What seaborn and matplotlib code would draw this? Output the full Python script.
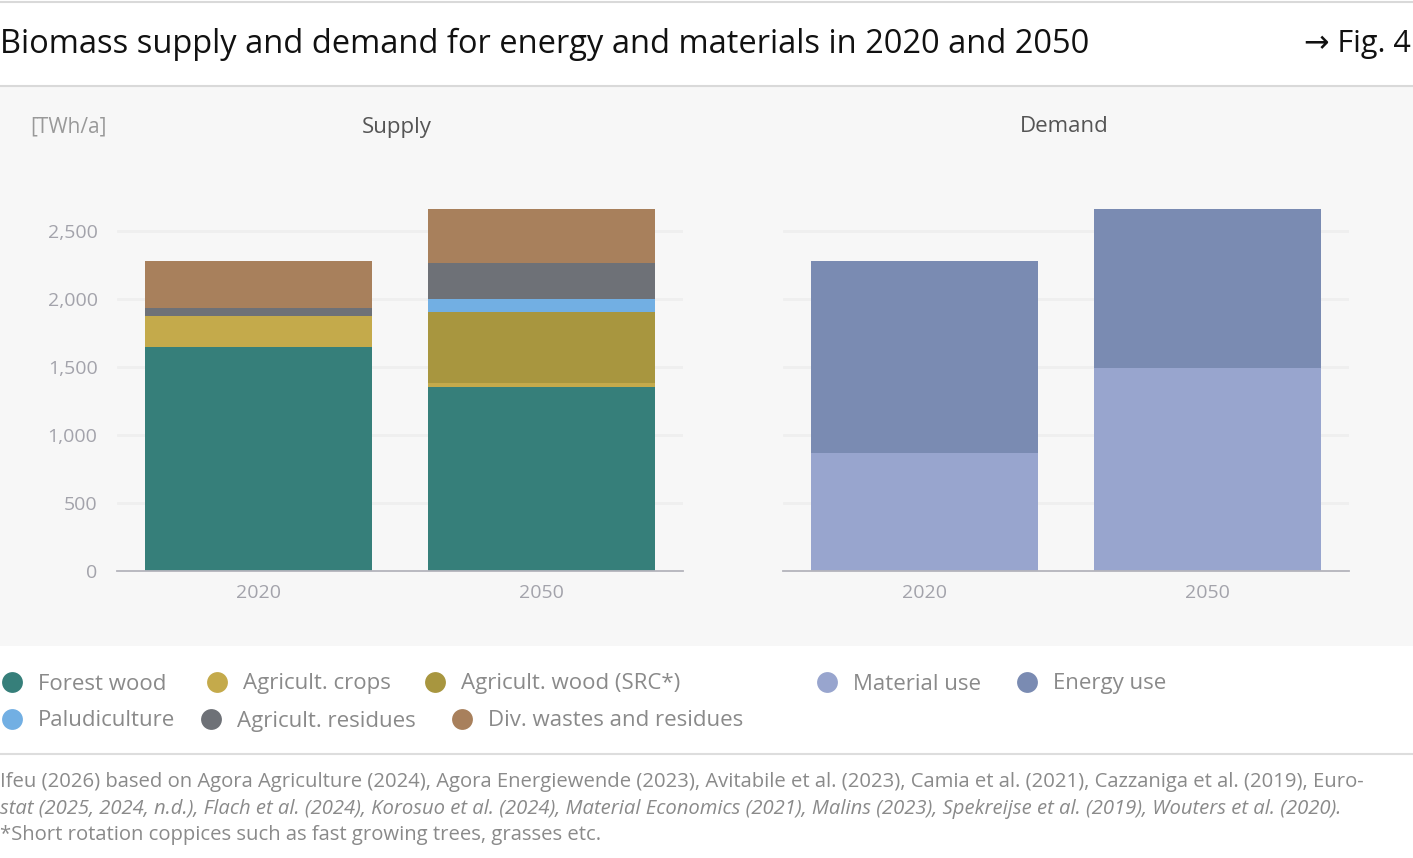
import numpy as np
import pandas as pd
import matplotlib
matplotlib.use("Agg")
import matplotlib.pyplot as plt
from matplotlib.lines import Line2D
from matplotlib.patches import Rectangle
import seaborn as sns

# ---------------- data ----------------
years = ["2020", "2050"]
supply_categories = ["Forest wood", "Agricult. crops", "Agricult. wood (SRC*)",
                     "Paludiculture", "Agricult. residues", "Div. wastes and residues"]
forest_wood = [1650, 1355]
agri_crops = [227, 27]
agri_wood_src = [0, 520]
paludiculture = [0, 98]
agri_residues = [57, 267]
div_wastes = [343, 393]

demand_categories = ["Material use", "Energy use"]
material_use = [868, 1490]
energy_use = [1409, 1170]

y_ticks = [0, 500, 1000, 1500, 2000, 2500]

supply_colors = ["#367f7a", "#c4aa4b", "#a8963f", "#72afe3", "#6e7177", "#a8805c"]
demand_colors = ["#98a5ce", "#7a8bb2"]

# ---------------- style ----------------
sns.set_theme(style="white")
plt.rcParams["font.family"] = ["Open Sans", "DejaVu Sans"]

W, H = 1413, 858
fig = plt.figure(figsize=(W / 100, H / 100), dpi=100)
fig.patch.set_facecolor("white")

def fx(x):
    return x / W

def fy(y):
    return 1 - y / H

# grey panel
panel = Rectangle((0, fy(646)), 1, fy(86) - fy(646), transform=fig.transFigure,
                  facecolor="#f7f7f7", edgecolor="none", zorder=-10)
fig.add_artist(panel)
# separator lines
for yy, c in [(2, "#d9d9d9"), (85.5, "#d9d9d9"), (754, "#dddddd")]:
    fig.add_artist(Line2D([0, 1], [fy(yy), fy(yy)], transform=fig.transFigure,
                          color=c, lw=1.5, zorder=-5))

# title
fig.text(fx(0), fy(44), "Biomass supply and demand for energy and materials in 2020 and 2050",
         fontsize=23.5, color="#111111", ha="left", va="center")
fig.text(fx(1411), fy(44), "\u2192 Fig. 4", fontsize=22, color="#111111", ha="right", va="center")

ymax = 2750
ax_bottom = fy(571)
ax_h = (2750 * 340 / 2500) / H
axL = fig.add_axes([fx(117), ax_bottom, fx(566), ax_h])
axR = fig.add_axes([fx(783), ax_bottom, fx(566), ax_h])

def stacked(ax, layers, colors):
    cum = np.cumsum(np.array(layers, dtype=float), axis=0)
    for i in range(len(layers) - 1, -1, -1):
        df = pd.DataFrame({"year": years, "value": cum[i]})
        sns.barplot(data=df, x="year", y="value", ax=ax, color=colors[i],
                    width=0.8, linewidth=0, saturation=1, zorder=3)

stacked(axL, [forest_wood, agri_crops, agri_wood_src, paludiculture, agri_residues, div_wastes],
        supply_colors)
stacked(axR, [material_use, energy_use], demand_colors)

for ax in (axL, axR):
    ax.set_facecolor("none")
    ax.set_xlim(-0.5, 1.5)
    ax.set_ylim(0, ymax)
    ax.set_xlabel("")
    ax.set_ylabel("")
    for s in ["top", "right", "left"]:
        ax.spines[s].set_visible(False)
    ax.spines["bottom"].set_color("#b4b4bc")
    ax.spines["bottom"].set_linewidth(1.3)
    ax.spines["bottom"].set_zorder(4)
    ax.set_yticks(y_ticks)
    for t in y_ticks[1:]:
        ax.axhline(t, color="#efefef", lw=2, zorder=1)
    ax.tick_params(axis="x", length=0, pad=9, labelsize=14, labelcolor="#a3a3ab")
    ax.grid(False)

axL.tick_params(axis="y", length=9, width=2, color="#efefef", pad=5, labelsize=14,
                labelcolor="#a3a3ab")
axL.set_yticklabels([f"{v:,}" for v in y_ticks])
axR.tick_params(axis="y", length=0, labelleft=False)

# panel titles
fig.text(fx(30), fy(127), "[TWh/a]", fontsize=15, color="#999999", ha="left", va="center")
fig.text(fx(397), fy(127), "Supply", fontsize=16, color="#555555", ha="center", va="center")
fig.text(fx(1064), fy(127), "Demand", fontsize=16, color="#555555", ha="center", va="center")

# legend (manual placement)
legend_items = [
    (supply_categories[0], supply_colors[0], 12, 682),
    (supply_categories[1], supply_colors[1], 217, 682),
    (supply_categories[2], supply_colors[2], 435, 682),
    (supply_categories[3], supply_colors[3], 12, 719),
    (supply_categories[4], supply_colors[4], 211, 719),
    (supply_categories[5], supply_colors[5], 462, 719),
    (demand_categories[0], demand_colors[0], 827, 682),
    (demand_categories[1], demand_colors[1], 1027, 682),
]
for label, col, cx, cy in legend_items:
    fig.add_artist(Line2D([fx(cx)], [fy(cy)], transform=fig.transFigure, marker="o",
                          markersize=15, markerfacecolor=col, markeredgecolor="none",
                          linestyle="none"))
    fig.text(fx(cx + 26), fy(cy + 2), label, fontsize=16, color="#8a8a8a", ha="left", va="center")

# footnotes
fs_note = 14.6
fig.text(fx(0), fy(782),
         "Ifeu (2026) based on Agora Agriculture (2024), Agora Energiewende (2023), Avitabile et al. (2023), "
         "Camia et al. (2021), Cazzaniga et al. (2019), Euro-",
         fontsize=fs_note, color="#8a8a8a", ha="left", va="center")
fig.text(fx(0), fy(809),
         "stat (2025, 2024, n.d.), Flach et al. (2024), Korosuo et al. (2024), Material Economics (2021), "
         "Malins (2023), Spekreijse et al. (2019), Wouters et al. (2020).",
         fontsize=fs_note, color="#8a8a8a", ha="left", va="center", style="italic")
fig.text(fx(0), fy(835), "*Short rotation coppices such as fast growing trees, grasses etc.",
         fontsize=fs_note, color="#8a8a8a", ha="left", va="center")

fig.savefig("out.png", dpi=100)
